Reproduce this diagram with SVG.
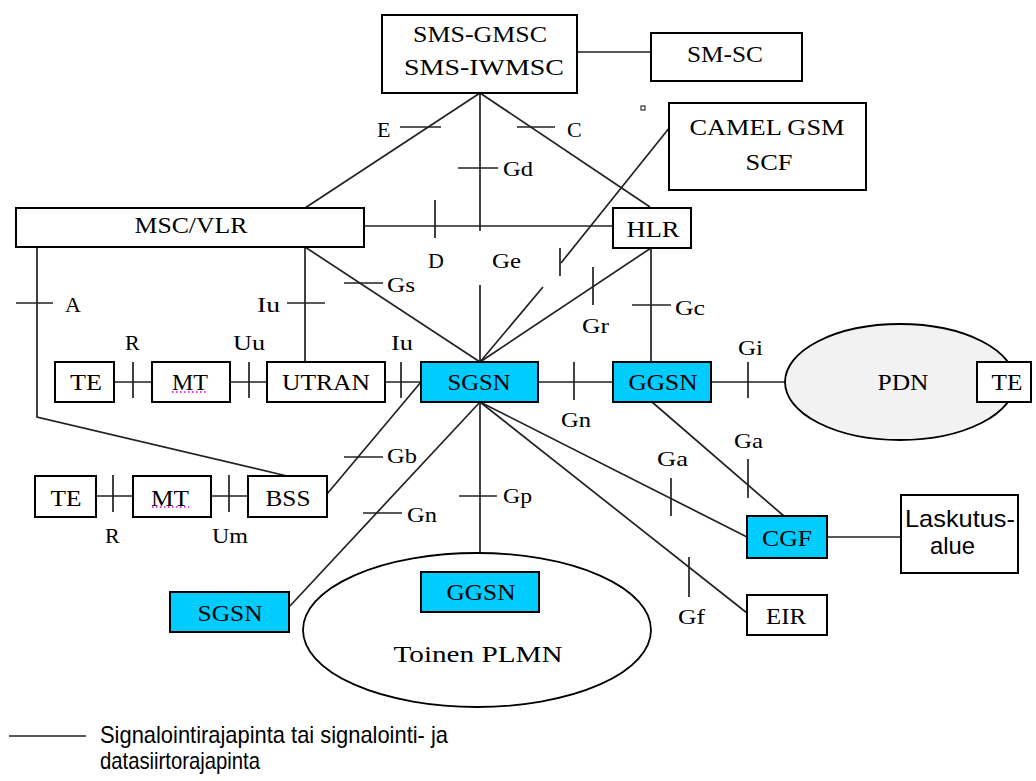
<svg xmlns="http://www.w3.org/2000/svg" width="1036" height="781" viewBox="0 0 1036 781">
<style>
.box{fill:#fff;stroke:#000;stroke-width:2}
.cy{fill:#00CCFF}
.ell{stroke:#000;stroke-width:1.8}
.t{font-family:"Liberation Serif","Times New Roman",serif;font-size:23px;fill:#000;text-anchor:middle}
.s{font-family:"Liberation Serif","Times New Roman",serif;font-size:22px;fill:#000}
.sans{font-family:"Liberation Sans",Arial,sans-serif;font-size:24px;fill:#000}
.ln{stroke:#222;stroke-width:1.7;fill:none}
.tk{stroke:#222;stroke-width:1.7}
.dot{stroke:#e000e0;stroke-width:1.3;stroke-dasharray:1.5 2.5}
</style>
<rect width="1036" height="781" fill="#fff"/>

<g id="connectors">
  <line class="ln" x1="577" y1="52" x2="651" y2="52"/>
  <line class="ln" x1="480" y1="93" x2="305" y2="208"/>
  <line class="ln" x1="480" y1="93" x2="650" y2="207"/>
  <line class="ln" x1="480" y1="93" x2="480" y2="231"/>
  <line class="ln" x1="364" y1="226" x2="613" y2="226"/>
  <line class="ln" x1="480" y1="285" x2="480" y2="362"/>
  <line class="ln" x1="670" y1="127" x2="561" y2="263"/>
  <line class="ln" x1="543" y1="287" x2="480" y2="362"/>
  <line class="ln" x1="651" y1="248" x2="480" y2="362"/>
  <line class="ln" x1="651" y1="248" x2="651" y2="362"/>
  <line class="ln" x1="305" y1="247" x2="480" y2="362"/>
  <line class="ln" x1="305" y1="247" x2="305" y2="362"/>
  <polyline class="ln" points="37,247 37,417 287,476"/>
  <line class="ln" x1="114" y1="382" x2="152" y2="382"/>
  <line class="ln" x1="230" y1="382" x2="267" y2="382"/>
  <line class="ln" x1="385" y1="382" x2="421" y2="382"/>
  <line class="ln" x1="538" y1="382" x2="613" y2="382"/>
  <line class="ln" x1="711" y1="382" x2="786" y2="382"/>
  <line class="ln" x1="96" y1="496" x2="133" y2="496"/>
  <line class="ln" x1="211" y1="496" x2="248" y2="496"/>
  <line class="ln" x1="327" y1="494" x2="421" y2="382"/>
  <line class="ln" x1="480" y1="402" x2="289" y2="607"/>
  <line class="ln" x1="480" y1="402" x2="480" y2="553"/>
  <line class="ln" x1="480" y1="402" x2="747" y2="537"/>
  <line class="ln" x1="480" y1="402" x2="747" y2="613"/>
  <line class="ln" x1="652" y1="402" x2="785" y2="517"/>
  <line class="ln" x1="827" y1="537" x2="901" y2="537"/>
  <!-- ticks -->
  <line class="tk" x1="400" y1="127" x2="441" y2="127"/>
  <line class="tk" x1="517" y1="127" x2="555" y2="127"/>
  <line class="tk" x1="458" y1="168" x2="498" y2="168"/>
  <line class="tk" x1="435" y1="200" x2="435" y2="238"/>
  <line class="tk" x1="560" y1="248" x2="560" y2="276"/>
  <line class="tk" x1="593" y1="267" x2="593" y2="305"/>
  <line class="tk" x1="632" y1="305" x2="671" y2="305"/>
  <line class="tk" x1="344" y1="283" x2="383" y2="283"/>
  <line class="tk" x1="287" y1="303" x2="325" y2="303"/>
  <line class="tk" x1="16" y1="303" x2="53" y2="303"/>
  <line class="tk" x1="133" y1="362" x2="133" y2="398"/>
  <line class="tk" x1="249" y1="362" x2="249" y2="398"/>
  <line class="tk" x1="401" y1="362" x2="401" y2="398"/>
  <line class="tk" x1="574" y1="362" x2="574" y2="400"/>
  <line class="tk" x1="748" y1="362" x2="748" y2="398"/>
  <line class="tk" x1="113" y1="475" x2="113" y2="512"/>
  <line class="tk" x1="229" y1="475" x2="229" y2="512"/>
  <line class="tk" x1="344" y1="457" x2="383" y2="457"/>
  <line class="tk" x1="363" y1="513" x2="402" y2="513"/>
  <line class="tk" x1="459" y1="496" x2="497" y2="496"/>
  <line class="tk" x1="671" y1="478" x2="671" y2="516"/>
  <line class="tk" x1="748" y1="459" x2="748" y2="498"/>
  <line class="tk" x1="689" y1="557" x2="689" y2="597"/>
  <!-- interface labels -->
  <text class="s" x="377" y="137">E</text>
  <text class="s" x="567" y="137">C</text>
  <text class="s" x="503" y="176" textLength="30" lengthAdjust="spacingAndGlyphs">Gd</text>
  <text class="s" x="428" y="268">D</text>
  <text class="s" x="492" y="268" textLength="29" lengthAdjust="spacingAndGlyphs">Ge</text>
  <text class="s" x="387" y="292" textLength="28" lengthAdjust="spacingAndGlyphs">Gs</text>
  <text class="s" x="65" y="312">A</text>
  <text class="s" x="257" y="312" textLength="23" lengthAdjust="spacingAndGlyphs">Iu</text>
  <text class="s" x="582" y="333" textLength="27" lengthAdjust="spacingAndGlyphs">Gr</text>
  <text class="s" x="675" y="315" textLength="30" lengthAdjust="spacingAndGlyphs">Gc</text>
  <text class="s" x="125" y="350">R</text>
  <text class="s" x="233" y="350" textLength="32" lengthAdjust="spacingAndGlyphs">Uu</text>
  <text class="s" x="391" y="350" textLength="22" lengthAdjust="spacingAndGlyphs">Iu</text>
  <text class="s" x="738" y="355" textLength="25" lengthAdjust="spacingAndGlyphs">Gi</text>
  <text class="s" x="561" y="427" textLength="30" lengthAdjust="spacingAndGlyphs">Gn</text>
  <text class="s" x="387" y="463" textLength="30" lengthAdjust="spacingAndGlyphs">Gb</text>
  <text class="s" x="407" y="522" textLength="30" lengthAdjust="spacingAndGlyphs">Gn</text>
  <text class="s" x="503" y="503" textLength="29" lengthAdjust="spacingAndGlyphs">Gp</text>
  <text class="s" x="657" y="466" textLength="31" lengthAdjust="spacingAndGlyphs">Ga</text>
  <text class="s" x="734" y="448" textLength="29" lengthAdjust="spacingAndGlyphs">Ga</text>
  <text class="s" x="678" y="624" textLength="27" lengthAdjust="spacingAndGlyphs">Gf</text>
  <text class="s" x="105" y="543">R</text>
  <text class="s" x="212" y="543" textLength="36" lengthAdjust="spacingAndGlyphs">Um</text>
</g>

<g id="sms-gmsc">
  <rect class="box" x="382" y="15" width="195" height="78"/>
  <text class="t" x="480" y="42" textLength="134" lengthAdjust="spacingAndGlyphs">SMS-GMSC</text>
  <text class="t" x="484" y="75" textLength="160" lengthAdjust="spacingAndGlyphs">SMS-IWMSC</text>
</g>
<g id="sm-sc">
  <rect class="box" x="651" y="33" width="151" height="48"/>
  <text class="t" x="725" y="62" textLength="76" lengthAdjust="spacingAndGlyphs">SM-SC</text>
</g>
<g id="dot">
  <rect x="641" y="106" width="4" height="4" fill="#fff" stroke="#333" stroke-width="1.2"/>
</g>
<g id="camel">
  <rect class="box" x="669" y="103" width="197" height="87"/>
  <text class="t" x="767" y="135" textLength="155" lengthAdjust="spacingAndGlyphs">CAMEL GSM</text>
  <text class="t" x="769" y="170" textLength="47" lengthAdjust="spacingAndGlyphs">SCF</text>
</g>
<g id="msc-vlr">
  <rect class="box" x="16" y="208" width="348" height="39"/>
  <text class="t" x="191" y="233" textLength="113" lengthAdjust="spacingAndGlyphs">MSC/VLR</text>
</g>
<g id="hlr">
  <rect class="box" x="613" y="208" width="78" height="40"/>
  <text class="t" x="653" y="237" textLength="53" lengthAdjust="spacingAndGlyphs">HLR</text>
</g>
<g id="te1">
  <rect class="box" x="55" y="362" width="59" height="40"/>
  <text class="t" x="86" y="390" textLength="32" lengthAdjust="spacingAndGlyphs">TE</text>
</g>
<g id="mt1">
  <rect class="box" x="152" y="362" width="78" height="40"/>
  <text class="t" x="190" y="390" textLength="36" lengthAdjust="spacingAndGlyphs">MT</text>
  <line class="dot" x1="172" y1="392" x2="208" y2="392"/>
</g>
<g id="utran">
  <rect class="box" x="267" y="362" width="118" height="40"/>
  <text class="t" x="326" y="390" textLength="88" lengthAdjust="spacingAndGlyphs">UTRAN</text>
</g>
<g id="sgsn">
  <rect class="box cy" x="421" y="362" width="117" height="40"/>
  <text class="t" x="479" y="390" textLength="63" lengthAdjust="spacingAndGlyphs">SGSN</text>
</g>
<g id="ggsn">
  <rect class="box cy" x="613" y="362" width="98" height="40"/>
  <text class="t" x="663" y="390" textLength="69" lengthAdjust="spacingAndGlyphs">GGSN</text>
</g>
<g id="pdn">
  <ellipse class="ell" cx="900" cy="382" rx="115" ry="58" fill="#f2f2f2"/>
  <text class="t" x="903" y="390" textLength="51" lengthAdjust="spacingAndGlyphs">PDN</text>
</g>
<g id="te-pdn">
  <rect class="box" x="977" y="362" width="54" height="40"/>
  <text class="t" x="1007" y="390" textLength="31" lengthAdjust="spacingAndGlyphs">TE</text>
</g>
<g id="te2">
  <rect class="box" x="35" y="476" width="61" height="41"/>
  <text class="t" x="66" y="506" textLength="31" lengthAdjust="spacingAndGlyphs">TE</text>
</g>
<g id="mt2">
  <rect class="box" x="133" y="476" width="78" height="41"/>
  <text class="t" x="170" y="506" textLength="38" lengthAdjust="spacingAndGlyphs">MT</text>
  <line class="dot" x1="152" y1="507" x2="189" y2="507"/>
</g>
<g id="bss">
  <rect class="box" x="248" y="476" width="79" height="41"/>
  <text class="t" x="288" y="506" textLength="45" lengthAdjust="spacingAndGlyphs">BSS</text>
</g>
<g id="sgsn2">
  <rect class="box cy" x="170" y="592" width="119" height="40"/>
  <text class="t" x="230" y="621" textLength="65" lengthAdjust="spacingAndGlyphs">SGSN</text>
</g>
<g id="plmn">
  <ellipse class="ell" cx="477" cy="630" rx="174" ry="77" fill="#fff"/>
  <text class="t" x="478" y="662" font-size="26" textLength="169" lengthAdjust="spacingAndGlyphs">Toinen PLMN</text>
</g>
<g id="ggsn2">
  <rect class="box cy" x="421" y="572" width="118" height="40"/>
  <text class="t" x="481" y="600" textLength="69" lengthAdjust="spacingAndGlyphs">GGSN</text>
</g>
<g id="cgf">
  <rect class="box cy" x="747" y="516" width="80" height="42"/>
  <text class="t" x="787" y="546" textLength="50" lengthAdjust="spacingAndGlyphs">CGF</text>
</g>
<g id="eir">
  <rect class="box" x="747" y="595" width="80" height="40"/>
  <text class="t" x="786" y="624" textLength="40" lengthAdjust="spacingAndGlyphs">EIR</text>
</g>
<g id="laskutus">
  <rect class="box" x="901" y="495" width="117" height="78"/>
  <text class="sans" x="905" y="527" textLength="110" lengthAdjust="spacingAndGlyphs">Laskutus-</text>
  <text class="sans" x="930" y="554" textLength="45" lengthAdjust="spacingAndGlyphs">alue</text>
</g>
<g id="legend">
  <line class="ln" x1="9" y1="736" x2="86" y2="736"/>
  <text class="sans" x="100" y="743" textLength="348" lengthAdjust="spacingAndGlyphs">Signalointirajapinta tai signalointi- ja</text>
  <text class="sans" x="100" y="769" textLength="160" lengthAdjust="spacingAndGlyphs">datasiirtorajapinta</text>
</g>
</svg>
